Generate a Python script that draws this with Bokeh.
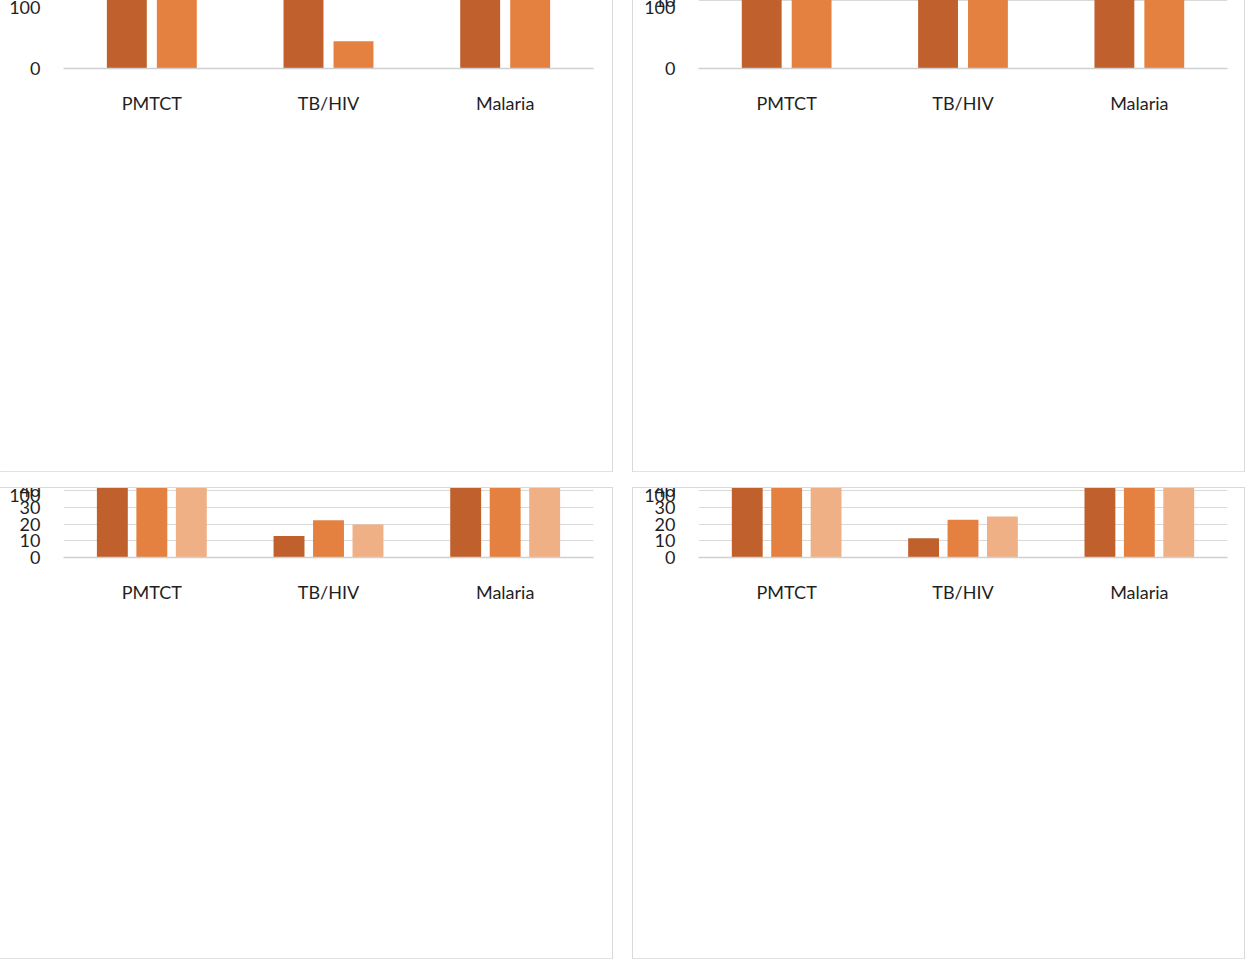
from bokeh.plotting import figure
from bokeh.models import FactorRange, Range1d, Legend, LegendItem, FixedTicker, ColumnDataSource
from bokeh.layouts import row, column
from bokeh.transform import dodge
from bokeh.embed import file_html
from bokeh.resources import INLINE

categories = ["PMTCT", "TB/HIV", "Malaria"]

facility_labels = ["Hospital/Health Center/Maternity Clinic", "Dispensary/Clinic/Other"]
facility_hospital = [77.0, 21.5, 62.5]
facility_dispensary = [42.3, 4.0, 44.5]

authority_labels = ["Public", "Private/Other"]
authority_public = [76.6, 22.1, 62.1]
authority_private = [65.1, 14.1, 56.6]

region_labels = ["Northern", "Central", "Southern"]
region_northern = [67.5, 12.9, 55.3]
region_central = [73.8, 22.3, 65.1]
region_southern = [73.3, 19.8, 58.2]

density_labels = ["Lowest density", "Low density", "Medium/high density"]
density_lowest = [66.9, 11.5, 54.2]
density_low = [75.9, 22.6, 63.4]
density_medhigh = [70.0, 24.6, 60.5]

ticks_facility = [0, 20, 40, 60, 80, 100]
ticks_other = [0, 10, 20, 30, 40, 50, 60, 70, 80, 90, 100]

COLORS = ["#C0602C", "#E48141", "#F0B085"]
FONT = "Lato"
TEXT = "#1F1F1F"


def make_panel(title, series, labels, width, height, borders, bar_w, offsets,
               ticks, title_offset, title_standoff, legend_orient,
               legend_spacing):
    left, right, top, bottom = borders
    p = figure(x_range=FactorRange(*categories), y_range=Range1d(0, 100),
               width=width, height=height, output_backend="svg",
               toolbar_location=None, min_border_left=left,
               min_border_right=right, min_border_top=top,
               min_border_bottom=bottom, title=title)
    p.styles = {"outline": "1px solid #D9D9D9"}
    p.outline_line_color = None
    items = []
    for vals, lab, off, col in zip(series, labels, offsets, COLORS):
        src = ColumnDataSource(dict(cat=categories, v=vals))
        r = p.vbar(x=dodge("cat", off, range=p.x_range), top="v", width=bar_w,
                   source=src, fill_color=col, line_color=None)
        items.append(LegendItem(label=lab, renderers=[r]))

    p.title.text_font = FONT
    p.title.text_font_size = "20px"
    p.title.text_font_style = "bold"
    p.title.text_color = "#000000"
    p.title.align = "center"
    p.title.offset = title_offset
    p.title.standoff = title_standoff

    p.xgrid.visible = False
    p.ygrid.grid_line_color = "#D9D9D9"
    p.ygrid.grid_line_width = 1

    p.yaxis.ticker = FixedTicker(ticks=ticks)
    p.yaxis.axis_line_color = None
    p.yaxis.major_tick_line_color = None
    p.yaxis.minor_tick_line_color = None
    p.yaxis.major_label_text_font = FONT
    p.yaxis.major_label_text_font_size = "18px"
    p.yaxis.major_label_text_color = TEXT
    p.yaxis.major_label_standoff = 17

    p.xaxis.axis_line_color = "#D0D0D0"
    p.xaxis.axis_line_width = 1.5
    p.xaxis.major_tick_line_color = None
    p.xaxis.minor_tick_line_color = None
    p.xaxis.major_label_text_font = FONT
    p.xaxis.major_label_text_font_size = "18px"
    p.xaxis.major_label_text_color = TEXT
    p.xaxis.major_label_standoff = 17

    legend = Legend(items=items, orientation=legend_orient, location="center",
                    border_line_color=None, background_fill_alpha=0,
                    glyph_width=11, glyph_height=11, label_text_font=FONT,
                    label_text_font_size="17px", label_text_color=TEXT,
                    label_standoff=5, spacing=legend_spacing, padding=0,
                    margin=10)
    p.add_layout(legend, "below")
    return p


p1 = make_panel("Facility Type", [facility_hospital, facility_dispensary],
                facility_labels, 612, 471, (63, 19, 68, 128), 0.226,
                [-0.1415, 0.1415], ticks_facility, -22, 28, "vertical", 15)
p2 = make_panel("Managing Authority", [authority_public, authority_private],
                authority_labels, 611, 471, (65, 17, 68, 96), 0.226,
                [-0.1415, 0.1415], ticks_other, 32, 25, "horizontal", 19)
p3 = make_panel("Region", [region_northern, region_central, region_southern],
                region_labels, 612, 470, (63, 19, 68, 95), 0.175,
                [-0.2235, 0, 0.2235], ticks_other, -22, 28, "horizontal", 20)
p4 = make_panel("Population Density", [density_lowest, density_low, density_medhigh],
                density_labels, 611, 470, (65, 17, 69, 94), 0.175,
                [-0.2235, 0, 0.2235], ticks_other, -22, 27, "horizontal", 30)

layout = column(row(p1, p2, spacing=21), row(p3, p4, spacing=21), spacing=17)

with open("out.html", "w") as f:
    f.write(file_html(layout, INLINE))
